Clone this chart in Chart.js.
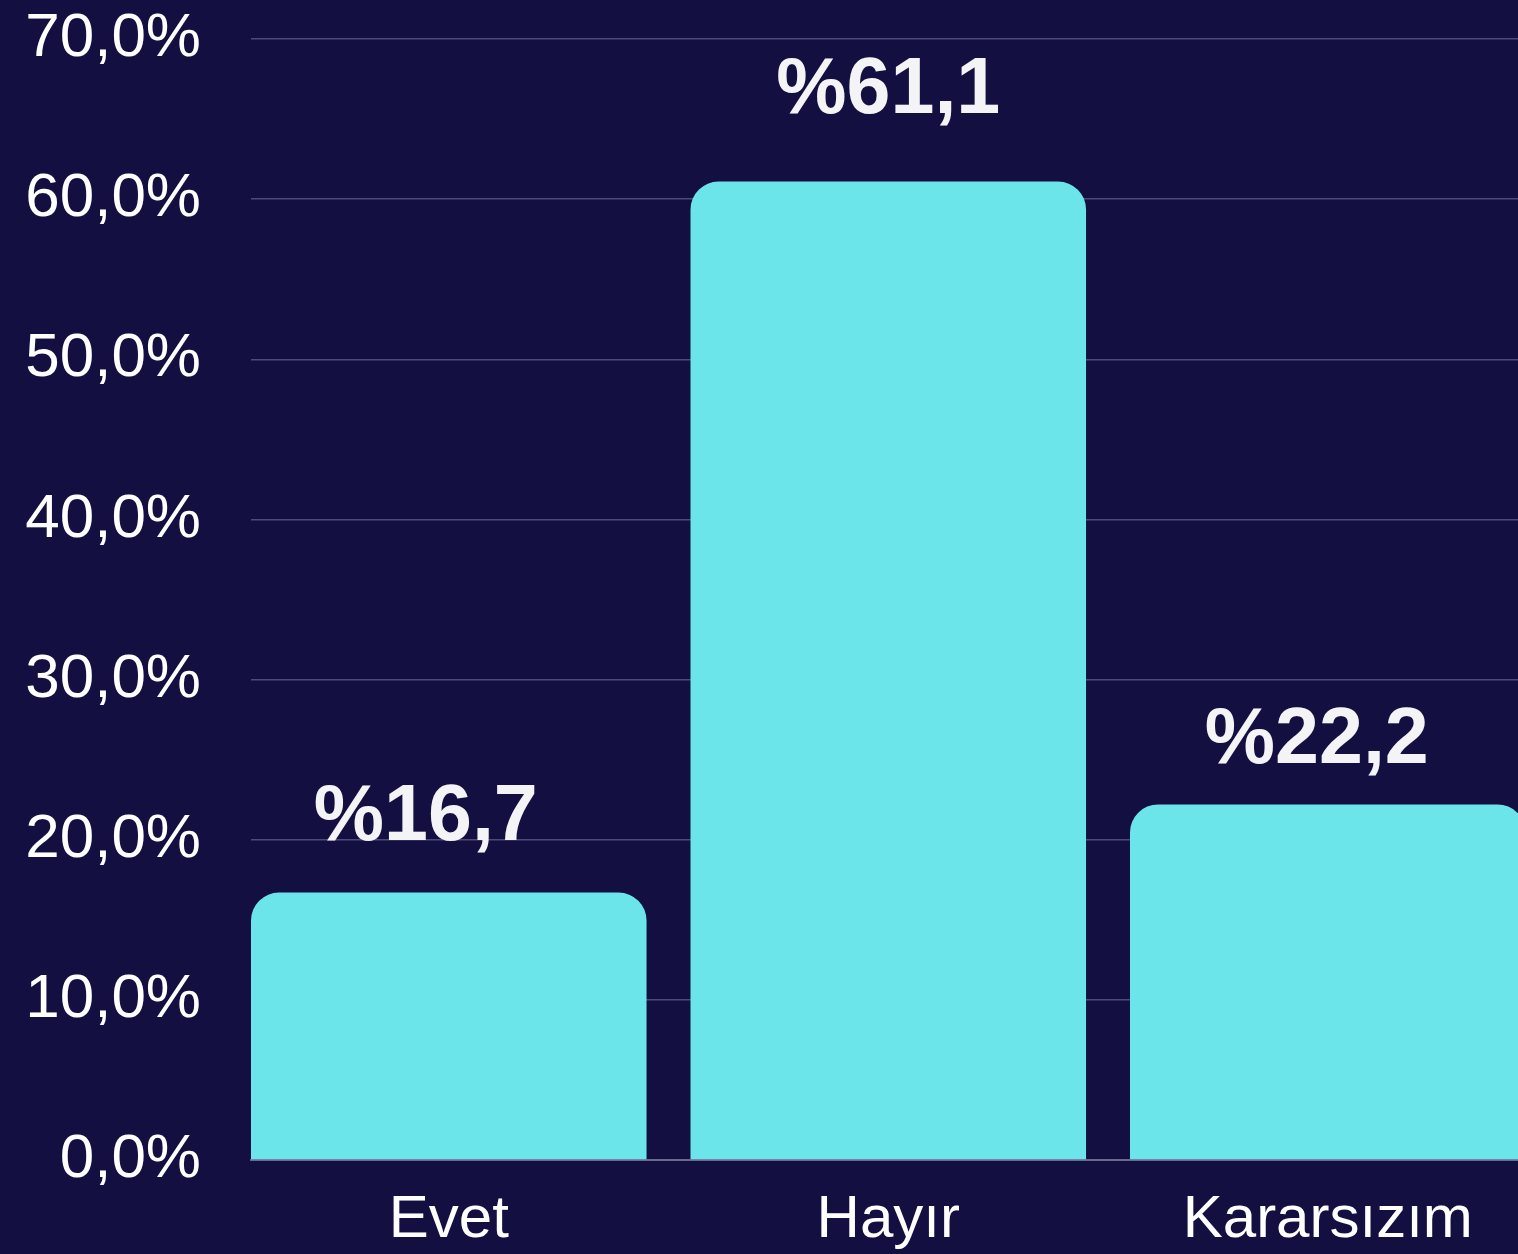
<!DOCTYPE html>
<html>
<head>
<meta charset="utf-8">
<script src="https://cdn.jsdelivr.net/npm/chart.js@4.4.1/dist/chart.umd.min.js"></script>
<style>
html,body{margin:0;padding:0;background:#130f40;overflow:hidden}
#wrap{width:1518px;height:1254px;position:relative}
</style>
</head>
<body>
<div id="wrap"><canvas id="c"></canvas></div>
<script>
const categories = ['Evet', 'Hayır', 'Kararsızım'];
const values = [16.7, 61.1, 22.2];
const yTicks = [0, 10, 20, 30, 40, 50, 60, 70];

const FONT = '"Liberation Sans", Arial, Helvetica, sans-serif';

const valueLabelPlugin = {
  id: 'valueLabels',
  afterDatasetsDraw(chart, args, opts) {
    const meta = chart.getDatasetMeta(0);
    const ctx = chart.ctx;
    ctx.save();
    ctx.font = opts.font;
    ctx.fillStyle = opts.color;
    ctx.textAlign = 'center';
    ctx.textBaseline = 'alphabetic';
    meta.data.forEach((bar, i) => {
      const v = values[i];
      ctx.fillText('%' + v.toFixed(1).replace('.', ','), bar.x + opts.dx[i], bar.y - opts.gap[i]);
    });
    ctx.restore();
  }
};

new Chart(document.getElementById('c'), {
  type: 'bar',
  data: {
    datasets: [{
      data: values.map((v, i) => ({ x: i, y: v })),
      backgroundColor: '#6be5e9',
      borderSkipped: 'bottom',
      borderRadius: { topLeft: 28, topRight: 28, bottomLeft: 0, bottomRight: 0 },
      categoryPercentage: 1,
      barPercentage: 0.9
    }]
  },
  options: {
    responsive: true,
    maintainAspectRatio: false,
    animation: false,
    layout: { padding: { top: 39, left: 25, right: 0, bottom: 0 } },
    plugins: {
      legend: { display: false },
      tooltip: { enabled: false },
      valueLabels: {
        font: 'bold 79px ' + FONT,
        color: '#f4f4f6',
        dx: [-23, 0, -11],
        gap: [53, 69, 41]
      }
    },
    scales: {
      x: {
        type: 'linear',
        offset: false,
        bounds: 'data',
        min: -0.45,
        max: -0.45 + 1267 / 439.5,
        afterBuildTicks: (scale) => { scale.ticks = categories.map((_, i) => ({ value: i })); },
        afterFit: (scale) => { scale.height = 94; scale.paddingLeft = 0; scale.paddingRight = 0; },
        grid: { display: false, drawTicks: false, offset: false },
        border: { display: true, color: '#6a6890', width: 2 },
        ticks: {
          color: '#ffffff',
          font: { family: FONT, size: 60 },
          padding: 24,
          maxRotation: 0,
          autoSkip: false,
          callback: (v) => categories[v] ?? ''
        }
      },
      y: {
        min: 0,
        max: 70,
        afterBuildTicks: (scale) => { scale.ticks = yTicks.map(v => ({ value: v })); },
        afterFit: (scale) => { scale.width = 226; scale.paddingTop = 0; scale.paddingBottom = 0; },
        grid: { color: '#4d4b78', lineWidth: 1.5, drawTicks: false },
        border: { display: false },
        ticks: {
          color: '#ffffff',
          font: { family: FONT, size: 62 },
          padding: 50,
          callback: (v) => v.toFixed(1).replace('.', ',') + '%'
        }
      }
    }
  },
  plugins: [valueLabelPlugin]
});
</script>
</body>
</html>
